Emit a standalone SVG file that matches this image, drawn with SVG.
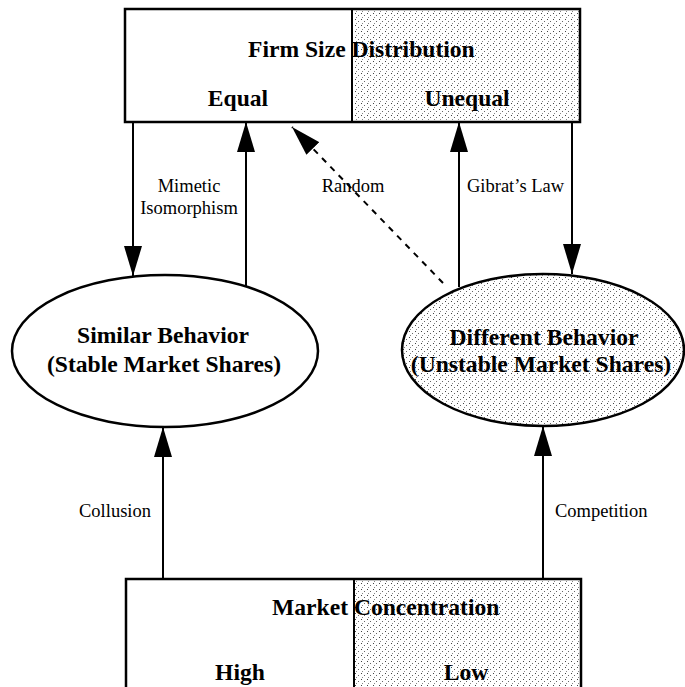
<svg xmlns="http://www.w3.org/2000/svg" width="685" height="687" viewBox="0 0 685 687">
<style>
.box{fill:none;stroke:#000;stroke-width:2.5}
.stip{fill:url(#dots);stroke:none}
.ell{stroke:#000;stroke-width:2.5}
.ln{stroke:#000;stroke-width:2;fill:none}
.dash{stroke:#000;stroke-width:2;fill:none;stroke-dasharray:6 6}
.bt{font-family:"Liberation Serif","Times New Roman",serif;font-weight:bold;font-size:23.6px;fill:#000}
.lt{font-family:"Liberation Serif","Times New Roman",serif;font-size:18.5px;fill:#000}
</style>
<defs>
<pattern id="dots" width="6" height="6" patternUnits="userSpaceOnUse">
<rect width="6" height="6" fill="#fff"/>
<rect x="1" y="1" width="1" height="1" fill="#444"/>
<rect x="4" y="3" width="1" height="1" fill="#666"/>
<rect x="2" y="5" width="1" height="1" fill="#888"/>
</pattern>
<marker id="ah" markerUnits="userSpaceOnUse" markerWidth="30" markerHeight="18" refX="30" refY="9" orient="auto">
<path d="M0,0 L30,9 L0,18 z" fill="#000"/>
</marker>
</defs>
<g id="connectors">
<line class="ln" x1="133" y1="122" x2="133" y2="276" marker-end="url(#ah)"/>
<line class="ln" x1="246" y1="286" x2="246" y2="122" marker-end="url(#ah)"/>
<line class="dash" x1="443" y1="283" x2="292" y2="127" marker-end="url(#ah)"/>
<line class="ln" x1="459" y1="287" x2="459" y2="122" marker-end="url(#ah)"/>
<line class="ln" x1="572" y1="122" x2="572" y2="274" marker-end="url(#ah)"/>
<line class="ln" x1="163" y1="578" x2="163" y2="427" marker-end="url(#ah)"/>
<line class="ln" x1="543" y1="578" x2="543" y2="426" marker-end="url(#ah)"/>
<text class="lt" x="189" y="192" text-anchor="middle">Mimetic</text>
<text class="lt" x="189" y="214" text-anchor="middle">Isomorphism</text>
<text class="lt" x="353" y="192" text-anchor="middle">Random</text>
<text class="lt" x="467" y="192">Gibrat’s Law</text>
<text class="lt" x="151" y="517" text-anchor="end">Collusion</text>
<text class="lt" x="555" y="517">Competition</text>
</g>
<g id="firm-size">
<rect class="stip" x="352" y="9" width="228" height="113"/>
<rect class="box" x="125" y="9" width="455" height="113"/>
<line class="ln" x1="352" y1="9" x2="352" y2="122"/>
<text class="bt" x="248" y="57">Firm Size Distribution</text>
<text class="bt" x="238" y="106" text-anchor="middle">Equal</text>
<text class="bt" x="467" y="106" text-anchor="middle">Unequal</text>
</g>
<g id="similar">
<ellipse class="ell" cx="165" cy="351" rx="153" ry="76" fill="#fff"/>
<text class="bt" x="163" y="343" text-anchor="middle">Similar Behavior</text>
<text class="bt" x="164" y="372" text-anchor="middle">(Stable Market Shares)</text>
</g>
<g id="different">
<ellipse class="ell" cx="543" cy="350" rx="141" ry="76" fill="url(#dots)"/>
<text class="bt" x="544" y="345" text-anchor="middle">Different Behavior</text>
<text class="bt" x="541" y="372" text-anchor="middle">(Unstable Market Shares)</text>
</g>
<g id="market-concentration">
<rect class="stip" x="354" y="579" width="227" height="110"/>
<rect class="box" x="126" y="579" width="455" height="115"/>
<line class="ln" x1="354" y1="579" x2="354" y2="687"/>
<text class="bt" x="272" y="615">Market Concentration</text>
<text class="bt" x="240" y="680" text-anchor="middle">High</text>
<text class="bt" x="466" y="680" text-anchor="middle">Low</text>
</g>
</svg>
